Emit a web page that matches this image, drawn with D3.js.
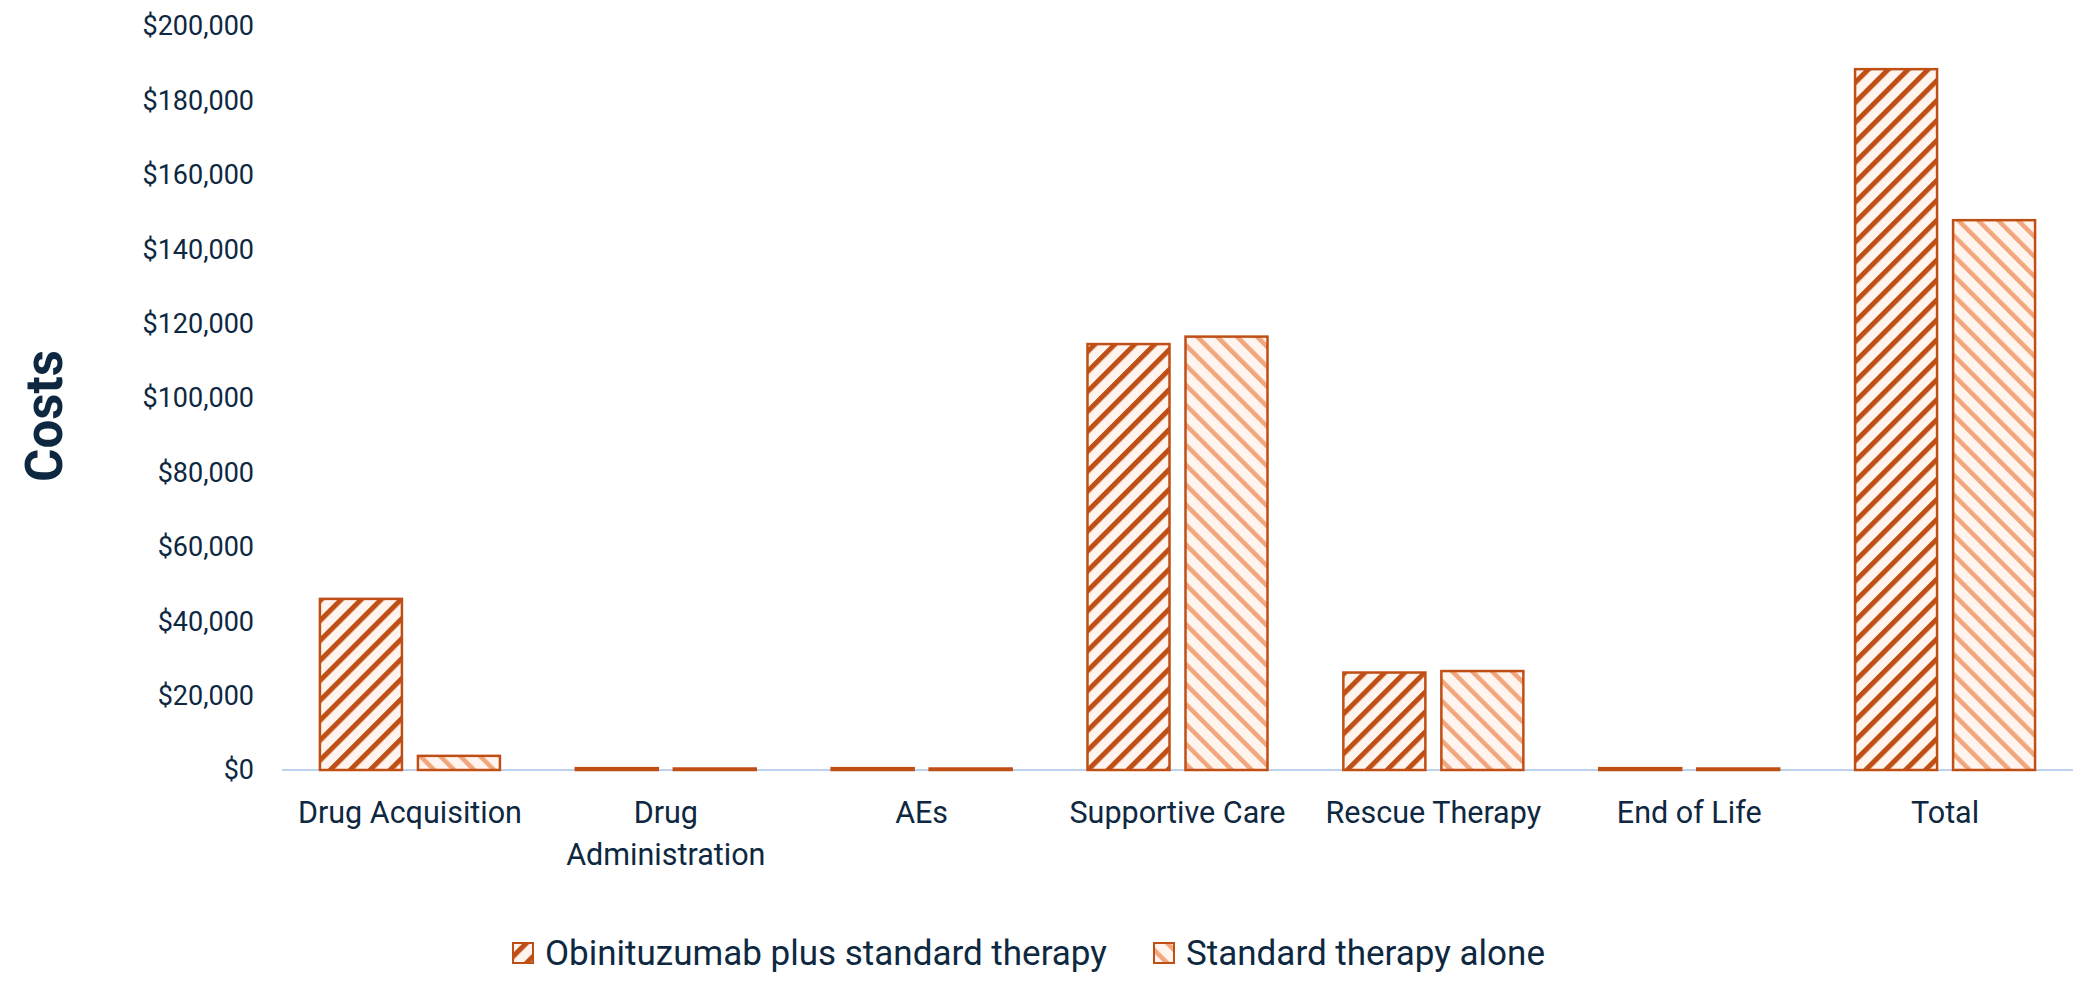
<!DOCTYPE html>
<html>
<head>
<meta charset="utf-8">
<script src="https://cdn.jsdelivr.net/npm/d3@7"></script>
<style>
  html, body { margin: 0; padding: 0; background: #fff; }
  svg { display: block; font-family: Roboto, "Noto Sans", sans-serif; }
</style>
</head>
<body>
<div id="chart"></div>
<script>
// Cost breakdown, two hatched series per category.
const categories = ['Drug Acquisition', 'Drug Administration', 'AEs', 'Supportive Care',
  'Rescue Therapy', 'End of Life', 'Total'];
const seriesNames = ['Obinituzumab plus standard therapy', 'Standard therapy alone'];
const obinValues = [46000, 500, 500, 114500, 26200, 500, 188400];
const stdValues = [3800, 400, 400, 116500, 26600, 400, 147800];
const yTicks = [0, 20000, 40000, 60000, 80000, 100000, 120000, 140000, 160000, 180000, 200000];

const W = 2100, H = 989;
const INK = '#0e2841';
const DARK = '#c04f15';
const LIGHT = '#f2a67d';

const svg = d3.select('#chart').append('svg').attr('width', W).attr('height', H);
svg.append('rect').attr('width', W).attr('height', H).attr('fill', '#fff');

// hatch patterns: "/" dark for series 1, "\" light for series 2
const defs = svg.append('defs');
function hatch(id, angle, color, sw) {
  const p = defs.append('pattern').attr('id', id)
    .attr('patternUnits', 'userSpaceOnUse')
    .attr('width', 14.1).attr('height', 14.1)
    .attr('patternTransform', `rotate(${angle})`);
  p.append('rect').attr('width', 14.1).attr('height', 14.1).attr('fill', '#fff4ee');
  p.append('rect').attr('x', 0).attr('width', sw).attr('height', 14.1).attr('fill', color);
}
hatch('hatch-obin', 45, DARK, 5);
hatch('hatch-std', -45, LIGHT, 4.5);
const fills = ['url(#hatch-obin)', 'url(#hatch-std)'];

const x = d3.scaleBand().domain(categories).range([282, 2073]);
const y = d3.scaleLinear().domain([0, 200000]).range([770, 26]);
const fmt = d3.format(',');

// y tick labels
svg.append('g').selectAll('text').data(yTicks).join('text')
  .attr('x', 254).attr('y', (d) => y(d)).attr('dy', '0.35em')
  .attr('text-anchor', 'end')
  .style('fill', INK).style('font-size', '27px')
  .text((d) => '$' + fmt(d));

// baseline
svg.append('line')
  .attr('x1', x.range()[0]).attr('x2', x.range()[1])
  .attr('y1', y(0)).attr('y2', y(0))
  .style('stroke', '#bcd2ee').attr('stroke-width', 2);

// bars
const barW = 82, gap = 16;
const rows = categories.map((c, i) => ({ cat: c, vals: [obinValues[i], stdValues[i]] }));
[0, 1].forEach((s) => {
  svg.append('g').selectAll('rect').data(rows).join('rect')
    .attr('x', (d) => x(d.cat) + x.bandwidth() / 2 + (s === 0 ? -gap / 2 - barW : gap / 2))
    .attr('y', (d) => y(d.vals[s]))
    .attr('width', barW)
    .attr('height', (d) => y(0) - y(d.vals[s]))
    .attr('fill', fills[s])
    .attr('stroke', DARK).attr('stroke-width', 2.5);
});

// category labels, wrapped to band width
const xl = svg.append('g').selectAll('text').data(categories).join('text')
  .attr('x', (d) => x(d) + x.bandwidth() / 2)
  .attr('y', 812)
  .attr('text-anchor', 'middle')
  .style('fill', INK).style('font-size', '30.5px');
xl.each(function (d) {
  const t = d3.select(this);
  const cx = x(d) + x.bandwidth() / 2;
  let line = [];
  let span = t.append('tspan').attr('x', cx).attr('dy', '0.35em');
  d.split(' ').forEach((w) => {
    line.push(w);
    span.text(line.join(' '));
    if (span.node().getComputedTextLength() > x.bandwidth() * 0.95 && line.length > 1) {
      line.pop();
      span.text(line.join(' '));
      line = [w];
      span = t.append('tspan').attr('x', cx).attr('dy', '42px').text(w);
    }
  });
});

// y axis title
svg.append('text')
  .attr('transform', 'translate(44,416) rotate(-90)')
  .attr('text-anchor', 'middle').attr('dy', '0.35em')
  .style('fill', INK).style('font-size', '51px').style('font-weight', 700)
  .text('Costs');

// legend
const legendX = [513, 1154];
const lg = svg.append('g').selectAll('g').data(seriesNames).join('g')
  .attr('transform', (d, i) => `translate(${legendX[i]},953)`);
lg.append('rect')
  .attr('x', 0).attr('y', -10).attr('width', 20).attr('height', 20)
  .attr('fill', (d, i) => fills[i])
  .attr('stroke', DARK).attr('stroke-width', 2);
lg.append('text')
  .attr('x', 32).attr('dy', '0.35em')
  .style('fill', INK).style('font-size', '35px')
  .text((d) => d);
</script>
</body>
</html>
